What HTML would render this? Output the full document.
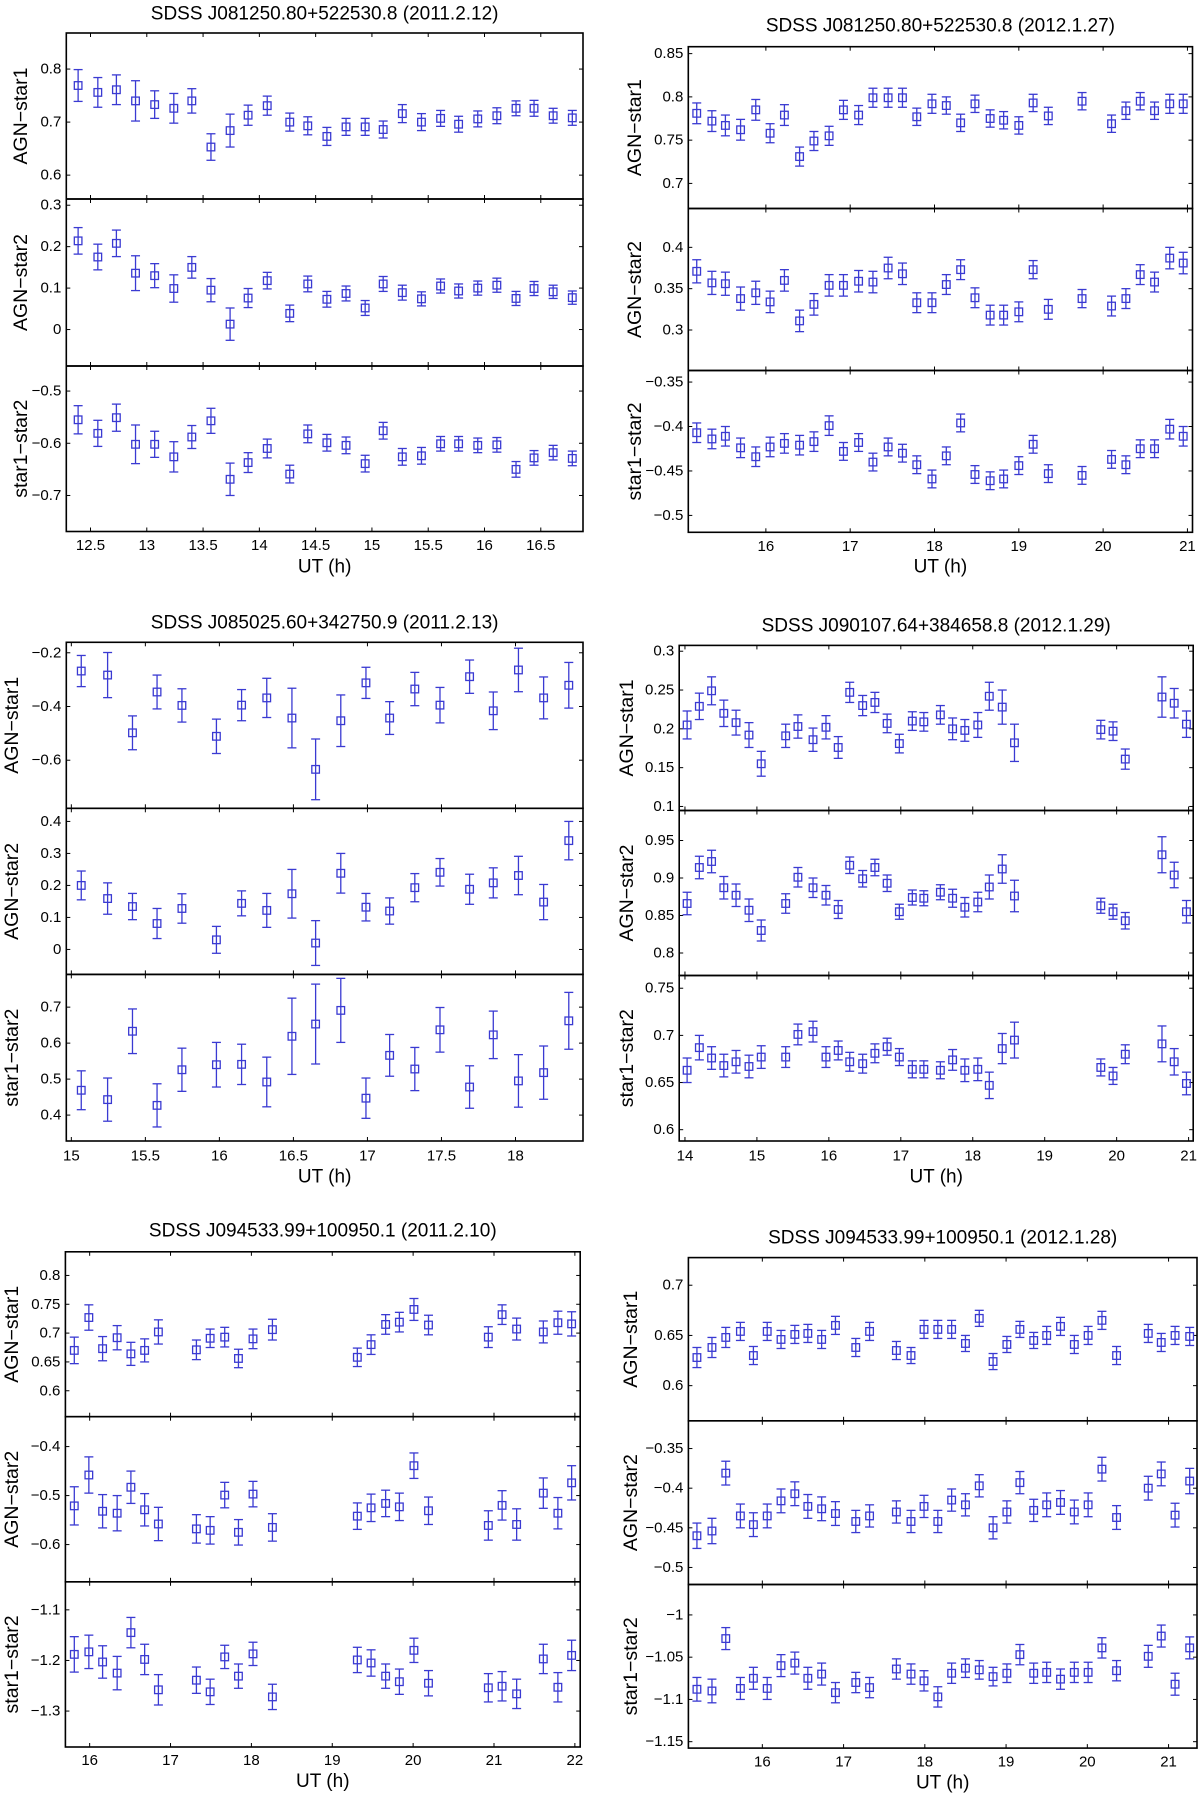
<!DOCTYPE html>
<html><head><meta charset="utf-8">
<style>
html,body{margin:0;padding:0;background:#fff;}
svg{display:block;}
text{font-family:"Liberation Sans",Arial,sans-serif;fill:#000;}
</style></head>
<body>
<svg id="fig" width="1200" height="1794" viewBox="0 0 1200 1794" xmlns="http://www.w3.org/2000/svg"></svg>
<script>
// ---------- Panel 1: SDSS J081250.80+522530.8 (2011.2.12)
const p1x=[12.39,12.565,12.73,12.90,13.07,13.24,13.40,13.57,13.74,13.90,14.07,14.27,14.43,14.60,14.77,14.94,15.10,15.27,15.44,15.61,15.77,15.94,16.11,16.28,16.44,16.61,16.78];
const p1a=[0.769,0.756,0.761,0.740,0.733,0.726,0.740,0.653,0.684,0.713,0.731,0.700,0.693,0.673,0.691,0.691,0.686,0.716,0.700,0.707,0.696,0.706,0.712,0.726,0.726,0.712,0.708];
const p1aErr=[0.03,0.028,0.028,0.038,0.026,0.028,0.023,0.025,0.031,0.019,0.018,0.017,0.017,0.017,0.016,0.016,0.016,0.017,0.016,0.015,0.015,0.015,0.015,0.014,0.015,0.014,0.014];
const p1b=[0.214,0.175,0.208,0.136,0.130,0.099,0.150,0.095,0.013,0.076,0.118,0.039,0.110,0.073,0.087,0.052,0.110,0.089,0.074,0.105,0.093,0.100,0.107,0.075,0.099,0.091,0.077];
const p1bErr=[0.032,0.031,0.032,0.042,0.029,0.033,0.026,0.028,0.039,0.023,0.02,0.02,0.019,0.019,0.018,0.018,0.018,0.018,0.017,0.017,0.017,0.017,0.017,0.017,0.017,0.016,0.016];
const p1c=[-0.555,-0.581,-0.551,-0.602,-0.602,-0.626,-0.588,-0.557,-0.669,-0.637,-0.610,-0.659,-0.582,-0.599,-0.604,-0.639,-0.576,-0.626,-0.624,-0.601,-0.601,-0.604,-0.603,-0.650,-0.628,-0.618,-0.629];
const p1cErr=[0.027,0.025,0.026,0.037,0.025,0.029,0.022,0.024,0.031,0.019,0.018,0.017,0.017,0.016,0.016,0.016,0.016,0.016,0.016,0.014,0.014,0.014,0.014,0.015,0.014,0.014,0.014];
const p1xTicks=[12.5,13,13.5,14,14.5,15,15.5,16,16.5];
const p1aTicks=[0.6,0.7,0.8], p1bTicks=[0,0.1,0.2,0.3], p1cTicks=[-0.7,-0.6,-0.5];

// ---------- Panel 2: SDSS J081250.80+522530.8 (2012.1.27)
const p2x=[15.18,15.36,15.52,15.70,15.88,16.05,16.22,16.40,16.57,16.75,16.92,17.10,17.27,17.45,17.62,17.79,17.97,18.14,18.31,18.48,18.66,18.82,19.00,19.17,19.35,19.75,20.10,20.27,20.44,20.61,20.79,20.95];
const p2a=[0.781,0.772,0.767,0.762,0.785,0.758,0.779,0.731,0.749,0.755,0.785,0.779,0.799,0.799,0.799,0.777,0.792,0.790,0.770,0.792,0.775,0.773,0.767,0.793,0.778,0.795,0.769,0.784,0.795,0.784,0.792,0.792];
const p2aErr=[0.012,0.012,0.012,0.012,0.012,0.011,0.012,0.011,0.011,0.011,0.011,0.011,0.011,0.011,0.011,0.010,0.011,0.010,0.010,0.010,0.010,0.010,0.010,0.010,0.010,0.010,0.010,0.010,0.010,0.010,0.011,0.011];
const p2b=[0.371,0.357,0.356,0.338,0.345,0.334,0.360,0.311,0.331,0.354,0.354,0.359,0.358,0.375,0.368,0.333,0.333,0.355,0.373,0.339,0.318,0.318,0.322,0.373,0.325,0.338,0.329,0.338,0.367,0.358,0.387,0.381];
const p2bErr=[0.014,0.014,0.014,0.014,0.014,0.013,0.013,0.013,0.013,0.013,0.013,0.013,0.013,0.013,0.013,0.012,0.012,0.012,0.012,0.012,0.012,0.012,0.012,0.011,0.012,0.011,0.012,0.012,0.012,0.012,0.013,0.013];
const p2c=[-0.407,-0.414,-0.411,-0.424,-0.434,-0.423,-0.419,-0.421,-0.417,-0.399,-0.428,-0.418,-0.440,-0.423,-0.430,-0.443,-0.459,-0.433,-0.396,-0.454,-0.461,-0.459,-0.444,-0.420,-0.453,-0.455,-0.437,-0.443,-0.425,-0.425,-0.403,-0.411];
const p2cErr=[0.011,0.011,0.011,0.011,0.011,0.011,0.011,0.011,0.011,0.011,0.010,0.010,0.010,0.010,0.010,0.010,0.010,0.010,0.010,0.010,0.010,0.010,0.010,0.010,0.010,0.010,0.010,0.010,0.010,0.010,0.011,0.011];
const p2xTicks=[16,17,18,19,20,21];
const p2aTicks=[0.7,0.75,0.8,0.85], p2bTicks=[0.3,0.35,0.4], p2cTicks=[-0.5,-0.45,-0.4,-0.35];

// ---------- Panel 3: SDSS J085025.60+342750.9 (2011.2.13)
const p3x=[15.067,15.245,15.413,15.579,15.747,15.98,16.15,16.32,16.49,16.65,16.82,16.99,17.15,17.32,17.49,17.69,17.85,18.02,18.19,18.36];
const p3a=[-0.268,-0.283,-0.498,-0.346,-0.396,-0.511,-0.395,-0.368,-0.443,-0.634,-0.453,-0.312,-0.443,-0.335,-0.395,-0.289,-0.416,-0.264,-0.368,-0.321];
const p3aErr=[0.058,0.084,0.063,0.063,0.062,0.064,0.058,0.073,0.111,0.113,0.096,0.058,0.061,0.062,0.066,0.062,0.07,0.081,0.078,0.085];
const p3b=[0.200,0.159,0.134,0.081,0.128,0.030,0.144,0.122,0.174,0.020,0.238,0.132,0.120,0.193,0.241,0.188,0.208,0.231,0.148,0.340];
const p3bErr=[0.045,0.049,0.041,0.047,0.046,0.042,0.039,0.053,0.076,0.070,0.062,0.043,0.041,0.044,0.043,0.047,0.047,0.060,0.055,0.060];
const p3c=[0.469,0.443,0.633,0.427,0.526,0.540,0.541,0.492,0.619,0.653,0.691,0.447,0.566,0.528,0.637,0.478,0.623,0.495,0.518,0.662];
const p3cErr=[0.054,0.060,0.062,0.060,0.060,0.062,0.056,0.069,0.106,0.111,0.089,0.056,0.058,0.060,0.062,0.059,0.066,0.073,0.074,0.079];
const p3xTicks=[15,15.5,16,16.5,17,17.5,18];
const p3aTicks=[-0.6,-0.4,-0.2], p3bTicks=[0,0.1,0.2,0.3,0.4], p3cTicks=[0.4,0.5,0.6,0.7];

// ---------- Panel 4: SDSS J090107.64+384658.8 (2012.1.29)
const p4x=[14.03,14.20,14.37,14.54,14.71,14.89,15.06,15.40,15.57,15.78,15.96,16.13,16.29,16.47,16.64,16.81,16.98,17.16,17.32,17.55,17.72,17.89,18.07,18.23,18.41,18.58,19.78,19.95,20.12,20.63,20.80,20.97];
const p4a=[0.205,0.229,0.249,0.220,0.208,0.192,0.155,0.191,0.203,0.186,0.202,0.176,0.247,0.230,0.234,0.207,0.181,0.210,0.209,0.218,0.200,0.198,0.205,0.242,0.228,0.182,0.199,0.197,0.161,0.241,0.233,0.206];
const p4aErr=[0.018,0.017,0.018,0.017,0.016,0.016,0.016,0.015,0.015,0.015,0.015,0.014,0.013,0.013,0.013,0.012,0.012,0.012,0.012,0.012,0.014,0.014,0.016,0.018,0.022,0.024,0.012,0.012,0.013,0.026,0.019,0.017];
const p4b=[0.866,0.914,0.922,0.887,0.877,0.857,0.830,0.866,0.901,0.887,0.877,0.858,0.917,0.899,0.914,0.893,0.855,0.874,0.873,0.881,0.873,0.861,0.868,0.888,0.912,0.876,0.863,0.855,0.843,0.931,0.904,0.855];
const p4bErr=[0.015,0.015,0.015,0.015,0.015,0.015,0.014,0.013,0.013,0.013,0.013,0.012,0.011,0.011,0.011,0.011,0.010,0.010,0.010,0.010,0.012,0.013,0.013,0.016,0.019,0.021,0.010,0.010,0.011,0.024,0.017,0.015];
const p4c=[0.663,0.687,0.676,0.668,0.672,0.667,0.677,0.677,0.701,0.704,0.677,0.684,0.672,0.670,0.681,0.688,0.677,0.664,0.664,0.663,0.674,0.663,0.664,0.647,0.686,0.695,0.666,0.657,0.680,0.691,0.672,0.649];
const p4cErr=[0.013,0.013,0.012,0.012,0.012,0.012,0.012,0.011,0.011,0.011,0.011,0.010,0.010,0.010,0.010,0.009,0.009,0.009,0.009,0.009,0.011,0.012,0.012,0.014,0.016,0.019,0.009,0.009,0.010,0.019,0.014,0.012];
const p4xTicks=[14,15,16,17,18,19,20,21];
const p4aTicks=[0.1,0.15,0.2,0.25,0.3], p4bTicks=[0.8,0.85,0.9,0.95], p4cTicks=[0.6,0.65,0.7,0.75];

// ---------- Panel 5: SDSS J094533.99+100950.1 (2011.2.10)
const p5x=[15.81,15.99,16.16,16.34,16.51,16.68,16.85,17.32,17.49,17.67,17.84,18.02,18.26,19.31,19.48,19.66,19.83,20.01,20.19,20.93,21.10,21.28,21.61,21.79,21.96];
const p5a=[0.670,0.727,0.673,0.692,0.664,0.670,0.702,0.671,0.691,0.693,0.656,0.690,0.706,0.658,0.680,0.715,0.719,0.741,0.714,0.693,0.732,0.707,0.702,0.718,0.716];
const p5aErr=[0.023,0.022,0.021,0.021,0.02,0.02,0.021,0.017,0.016,0.017,0.016,0.017,0.018,0.016,0.017,0.017,0.017,0.019,0.017,0.018,0.017,0.019,0.019,0.02,0.021];
const p5b=[-0.521,-0.458,-0.532,-0.536,-0.483,-0.529,-0.558,-0.568,-0.571,-0.499,-0.575,-0.497,-0.565,-0.542,-0.525,-0.516,-0.523,-0.439,-0.531,-0.561,-0.520,-0.559,-0.495,-0.536,-0.474];
const p5bErr=[0.039,0.037,0.034,0.036,0.033,0.033,0.034,0.029,0.028,0.026,0.026,0.026,0.028,0.027,0.028,0.027,0.028,0.026,0.028,0.03,0.03,0.032,0.031,0.032,0.035];
const p5c=[-1.188,-1.183,-1.203,-1.225,-1.145,-1.198,-1.258,-1.239,-1.262,-1.193,-1.231,-1.187,-1.272,-1.199,-1.205,-1.231,-1.242,-1.180,-1.245,-1.254,-1.251,-1.266,-1.197,-1.253,-1.190];
const p5cErr=[0.035,0.033,0.032,0.033,0.03,0.03,0.03,0.026,0.025,0.023,0.024,0.023,0.025,0.025,0.026,0.024,0.025,0.024,0.025,0.028,0.029,0.029,0.029,0.029,0.03];
const p5xTicks=[16,17,18,19,20,21,22];
const p5aTicks=[0.6,0.65,0.7,0.75,0.8], p5bTicks=[-0.6,-0.5,-0.4], p5cTicks=[-1.3,-1.2,-1.1];

// ---------- Panel 6: SDSS J094533.99+100950.1 (2012.1.28)
const p6x=[15.195,15.38,15.55,15.73,15.89,16.06,16.23,16.40,16.56,16.73,16.90,17.15,17.32,17.65,17.83,17.99,18.16,18.33,18.50,18.67,18.84,19.01,19.17,19.34,19.50,19.67,19.84,20.01,20.18,20.36,20.75,20.91,21.08,21.26];
const p6a=[0.628,0.638,0.648,0.654,0.630,0.654,0.646,0.651,0.652,0.646,0.660,0.638,0.654,0.635,0.630,0.656,0.656,0.656,0.642,0.667,0.624,0.641,0.656,0.645,0.650,0.659,0.641,0.650,0.665,0.630,0.652,0.643,0.650,0.649];
const p6aErr=[0.010,0.010,0.010,0.009,0.009,0.009,0.009,0.009,0.009,0.009,0.009,0.009,0.009,0.009,0.008,0.009,0.009,0.009,0.008,0.008,0.008,0.008,0.008,0.008,0.009,0.009,0.009,0.009,0.009,0.009,0.009,0.009,0.009,0.009];
const p6b=[-0.460,-0.454,-0.381,-0.435,-0.446,-0.435,-0.416,-0.407,-0.423,-0.426,-0.432,-0.442,-0.435,-0.430,-0.442,-0.423,-0.442,-0.415,-0.421,-0.397,-0.450,-0.430,-0.393,-0.428,-0.421,-0.418,-0.430,-0.421,-0.376,-0.437,-0.400,-0.382,-0.434,-0.391];
const p6bErr=[0.016,0.016,0.015,0.015,0.015,0.015,0.015,0.015,0.015,0.015,0.015,0.014,0.014,0.014,0.014,0.014,0.014,0.014,0.014,0.014,0.014,0.014,0.014,0.014,0.015,0.015,0.015,0.015,0.015,0.015,0.015,0.015,0.015,0.016];
const p6c=[-1.088,-1.090,-1.028,-1.087,-1.075,-1.087,-1.060,-1.057,-1.075,-1.070,-1.092,-1.080,-1.086,-1.064,-1.070,-1.078,-1.097,-1.069,-1.063,-1.065,-1.073,-1.069,-1.047,-1.069,-1.068,-1.076,-1.068,-1.068,-1.039,-1.066,-1.049,-1.025,-1.082,-1.039];
const p6cErr=[0.014,0.014,0.013,0.013,0.013,0.013,0.013,0.013,0.013,0.013,0.012,0.012,0.012,0.012,0.012,0.012,0.012,0.012,0.011,0.011,0.011,0.011,0.012,0.012,0.012,0.012,0.012,0.012,0.012,0.012,0.013,0.013,0.013,0.013];
const p6xTicks=[16,17,18,19,20,21];
const p6aTicks=[0.6,0.65,0.7], p6bTicks=[-0.5,-0.45,-0.4,-0.35], p6cTicks=[-1.15,-1.1,-1.05,-1];

const rowLabels=['AGN\u2212star1','AGN\u2212star2','star1\u2212star2'];

// layout (pixels) and axis limits
const panels=[
 {id:'p1',title:'SDSS J081250.80+522530.8 (2011.2.12)',L:66.3,R:583,T:[33,199,366,531.5],xr:[12.285,16.875],
  yr:[[0.555,0.868],[-0.088,0.315],[-0.769,-0.452]],titleY:14,xlY:545.5,utY:567,ylX:21,
  x:p1x,ys:[p1a,p1b,p1c],es:[p1aErr,p1bErr,p1cErr],xt:p1xTicks,yt:[p1aTicks,p1bTicks,p1cTicks]},
 {id:'p2',title:'SDSS J081250.80+522530.8 (2012.1.27)',L:688.3,R:1192.5,T:[46.7,208.5,370.5,532.3],xr:[15.08,21.06],
  yr:[[0.671,0.858],[0.251,0.447],[-0.519,-0.337]],titleY:26,xlY:546.5,utY:567,ylX:635,
  x:p2x,ys:[p2a,p2b,p2c],es:[p2aErr,p2bErr,p2cErr],xt:p2xTicks,yt:[p2aTicks,p2bTicks,p2cTicks]},
 {id:'p3',title:'SDSS J085025.60+342750.9 (2011.2.13)',L:66.3,R:583,T:[642.3,808.3,974.4,1141],xr:[14.966,18.456],
  yr:[[-0.779,-0.161],[-0.078,0.441],[0.328,0.791]],titleY:623,xlY:1156,utY:1177,ylX:12,
  x:p3x,ys:[p3a,p3b,p3c],es:[p3aErr,p3bErr,p3cErr],xt:p3xTicks,yt:[p3aTicks,p3bTicks,p3cTicks]},
 {id:'p4',title:'SDSS J090107.64+384658.8 (2012.1.29)',L:679.2,R:1193.2,T:[645.4,810.5,975.5,1141],xr:[13.92,21.064],
  yr:[[0.0948,0.3075],[0.770,0.990],[0.588,0.7635]],titleY:626,xlY:1156,utY:1177,ylX:627,
  x:p4x,ys:[p4a,p4b,p4c],es:[p4aErr,p4bErr,p4cErr],xt:p4xTicks,yt:[p4aTicks,p4bTicks,p4cTicks]},
 {id:'p5',title:'SDSS J094533.99+100950.1 (2011.2.10)',L:65.4,R:580.2,T:[1251.8,1416.7,1581.8,1747],xr:[15.70,22.066],
  yr:[[0.555,0.841],[-0.676,-0.339],[-1.371,-1.0446]],titleY:1231,xlY:1760.5,utY:1781.5,ylX:12,
  x:p5x,ys:[p5a,p5b,p5c],es:[p5aErr,p5bErr,p5cErr],xt:p5xTicks,yt:[p5aTicks,p5bTicks,p5cTicks]},
 {id:'p6',title:'SDSS J094533.99+100950.1 (2012.1.28)',L:688.4,R:1197,T:[1257.6,1420.8,1584.5,1748.1],xr:[15.09,21.35],
  yr:[[0.565,0.7275],[-0.5215,-0.315],[-1.1576,-0.964]],titleY:1238,xlY:1762,utY:1783,ylX:631,
  x:p6x,ys:[p6a,p6b,p6c],es:[p6aErr,p6bErr,p6cErr],xt:p6xTicks,yt:[p6aTicks,p6bTicks,p6cTicks]}
];

const NS='http://www.w3.org/2000/svg';
const svg=document.getElementById('fig');
function mk(tag,attrs,parent){const e=document.createElementNS(NS,tag);for(const k in attrs)e.setAttribute(k,attrs[k]);(parent||svg).appendChild(e);return e;}
function fmt(v){let s=String(Number(v.toFixed(4)));return s.replace('-','\u2212');}
const BLUE='#3a3ad2';

panels.forEach(P=>{
  const g=mk('g',{});
  
  
  const sx=v=>P.L+(v-P.xr[0])/(P.xr[1]-P.xr[0])*(P.R-P.L);
  const cx=(P.L+P.R)/2;
  const t=mk('text',{x:cx,y:P.titleY,'font-size':19,'text-anchor':'middle','dominant-baseline':'central'},g);
  t.textContent=P.title;
  
  
  for(let k=0;k<3;k++){
    const top=P.T[k],bot=P.T[k+1];
    const yr=P.yr[k];
    const sy=v=>bot-(v-yr[0])/(yr[1]-yr[0])*(bot-top);
    const sg=mk('g',{},g);
    
    
    const fr=mk('rect',{x:P.L,y:top,width:P.R-P.L,height:bot-top,fill:'none',stroke:'#000','stroke-width':1.6},sg);
    
    
    P.xt.forEach(v=>{
      const X=sx(v);
      mk('line',{x1:X,x2:X,y1:top,y2:top+4,stroke:'#000','stroke-width':1},sg);
      mk('line',{x1:X,x2:X,y1:bot,y2:bot-4,stroke:'#000','stroke-width':1},sg);
      if(k===2){
        const tl=mk('text',{x:X,y:P.xlY,'font-size':15,'text-anchor':'middle','dominant-baseline':'central'},sg);
        tl.textContent=fmt(v);
        
        
      }
    });
    P.yt[k].forEach(v=>{
      const Y=sy(v);
      mk('line',{x1:P.L,x2:P.L+4,y1:Y,y2:Y,stroke:'#000','stroke-width':1},sg);
      mk('line',{x1:P.R,x2:P.R-4,y1:Y,y2:Y,stroke:'#000','stroke-width':1},sg);
      const tl=mk('text',{x:P.L-5,y:Y,'font-size':15,'text-anchor':'end','dominant-baseline':'central'},sg);
      tl.textContent=fmt(v);
      
      
    });
    const ym=(top+bot)/2;
    const yl=mk('text',{x:P.ylX,y:ym,'font-size':19.5,'text-anchor':'middle','dominant-baseline':'central',transform:'rotate(-90 '+P.ylX+' '+ym+')'},sg);
    yl.textContent=rowLabels[k];
    
    
    const ys=P.ys[k],es=P.es[k];
    P.x.forEach((xv,i)=>{
      const X=sx(xv),Y=sy(ys[i]),Y1=sy(ys[i]+es[i]),Y2=sy(ys[i]-es[i]);
      const pg=mk('g',{stroke:BLUE,'stroke-width':1.3,fill:'none'},sg);
      
      
      mk('line',{x1:X,x2:X,y1:Y1,y2:Y2},pg);
      mk('line',{x1:X-4.5,x2:X+4.5,y1:Y1,y2:Y1},pg);
      mk('line',{x1:X-4.5,x2:X+4.5,y1:Y2,y2:Y2},pg);
      mk('rect',{x:X-3.8,y:Y-3.8,width:7.6,height:7.6},pg);
    });
  }
  const ut=mk('text',{x:cx,y:P.utY,'font-size':19,'text-anchor':'middle','dominant-baseline':'central'},g);
  ut.textContent='UT (h)';
  
  
});
</script>
</body></html>
